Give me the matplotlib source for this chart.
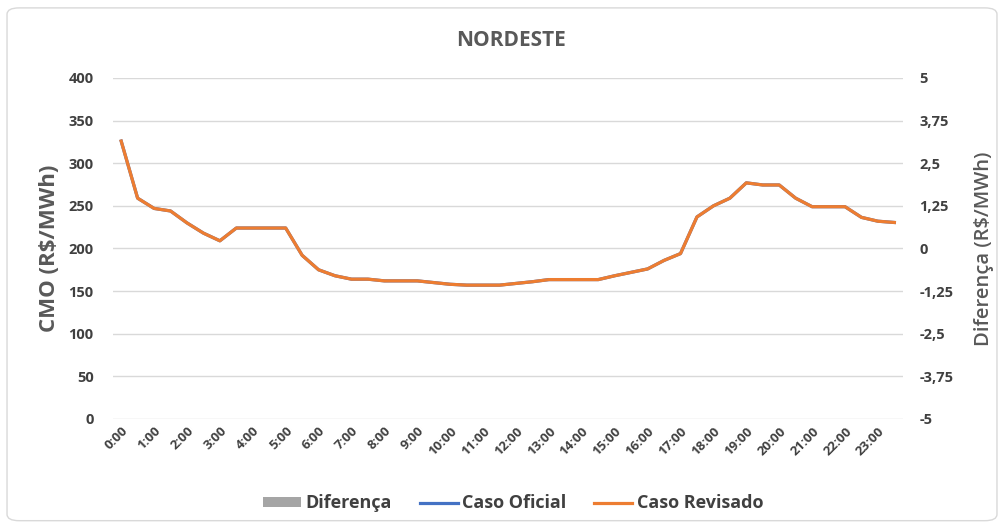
import numpy as np
import matplotlib
matplotlib.use("Agg")
from matplotlib import pyplot as plt
from matplotlib.patches import FancyBboxPatch, Patch
from matplotlib.lines import Line2D
from matplotlib.ticker import FuncFormatter

# half-hourly intervals of the day
horarios = [f"{h}:{m:02d}" for h in range(24) for m in (0, 30)]

caso_oficial = [326, 259, 247, 244, 230, 218, 209, 224, 224, 224, 224, 192,
                175, 168, 164, 164, 162, 162, 162, 160, 158, 157, 157, 157,
                159, 161, 163.5, 163.5, 163.5, 163.5, 168, 172, 176, 186, 194, 237,
                250, 259, 277, 274.5, 274.5, 259, 249, 249, 249, 236.5, 232, 230.5]
caso_revisado = [326, 259, 247, 244, 230, 218, 209, 224, 224, 224, 224, 192,
                 175, 168, 164, 164, 162, 162, 162, 160, 158, 157, 157, 157,
                 159, 161, 163.5, 163.5, 163.5, 163.5, 168, 172, 176, 186, 194, 237,
                 250, 259, 277, 274.5, 274.5, 259, 249, 249, 249, 236.5, 232, 230.5]
# Diferença = revisado - oficial (zero everywhere in this case)
diferenca = np.array(caso_revisado) - np.array(caso_oficial)

cmo_ticks = list(range(0, 401, 50))
dif_ticks = [-5, -3.75, -2.5, -1.25, 0, 1.25, 2.5, 3.75, 5]

TXT = "#595959"
DARK = "#404040"
GRID = "#D9D9D9"
BLUE = "#4472C4"
ORANGE = "#ED7D31"
GRAY = "#A5A5A5"

plt.rcParams["font.family"] = ["Open Sans", "DejaVu Sans"]

fig = plt.figure(figsize=(10.04, 5.27), dpi=100)
ax = fig.add_axes([0.1125, 0.205, 0.7865, 0.647])
ax2 = ax.twinx()

x = np.arange(len(horarios))

# secondary axis: difference bars
ax2.bar(x, diferenca, width=0.6, color=GRAY, zorder=1)
ax2.set_ylim(-5, 5)
ax2.set_yticks(dif_ticks)
ax2.yaxis.set_major_formatter(FuncFormatter(lambda v, p: f"{v:g}".replace(".", ",")))

# primary axis: CMO lines
ax.plot(x, caso_oficial, color=BLUE, linewidth=2.3, zorder=3)
ax.plot(x, caso_revisado, color=ORANGE, linewidth=2.3, zorder=4)
ax.set_ylim(0, 400)
ax.set_yticks(cmo_ticks)
ax.set_xlim(-0.5, len(horarios) - 0.5)
ax.set_xticks(x[::2])
ax.set_xticklabels(horarios[::2], rotation=45, ha="right", rotation_mode="anchor")
ax.grid(axis="y", color=GRID, linewidth=1)
ax.set_axisbelow(True)

for a in (ax, ax2):
    for s in a.spines.values():
        s.set_visible(False)
    a.tick_params(length=0, colors=DARK)

ax.tick_params(axis="y", labelsize=10.5, pad=14)
ax.tick_params(axis="x", labelsize=9.5, pad=4)
ax2.tick_params(axis="y", labelsize=10.5, pad=12)
for lbl in ax.get_yticklabels() + ax.get_xticklabels() + ax2.get_yticklabels():
    lbl.set_fontweight("bold")

ax.set_ylabel("CMO (R$/MWh)", fontsize=16, fontweight="bold", color=TXT, labelpad=6)
ax2.set_ylabel("Diferença (R$/MWh)", fontsize=14.5, fontweight="semibold",
               color=TXT, labelpad=15)

fig.text(0.509, 0.924, "NORDESTE", ha="center", va="center",
         fontsize=15, fontweight="bold", color=TXT)

handles = [Patch(facecolor=GRAY, edgecolor="none"),
           Line2D([], [], color=BLUE, linewidth=2.3),
           Line2D([], [], color=ORANGE, linewidth=2.3)]
leg = fig.legend(handles, ["Diferença", "Caso Oficial", "Caso Revisado"],
                 loc="center", bbox_to_anchor=(0.511, 0.045), ncol=3, frameon=False,
                 handlelength=2.1, handleheight=0.5, handletextpad=0.25,
                 columnspacing=1.55, prop={"size": 13, "weight": "bold"})
for t in leg.get_texts():
    t.set_color(DARK)

# chart border like the spreadsheet frame
fig.patches.append(FancyBboxPatch((0.007, 0.012), 0.986, 0.973,
                                  boxstyle="round,pad=0,rounding_size=0.012",
                                  transform=fig.transFigure, fill=False,
                                  edgecolor=GRID, linewidth=1))

fig.savefig("out.png", dpi=100)
